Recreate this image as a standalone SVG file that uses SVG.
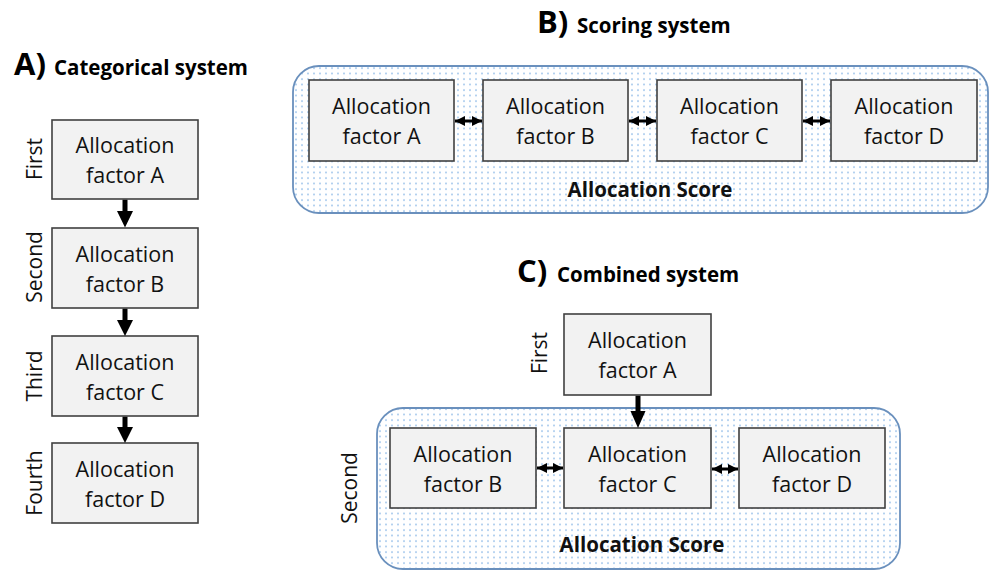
<svg xmlns="http://www.w3.org/2000/svg" width="990" height="571" viewBox="0 0 990 571">
<defs>
<pattern id="dots" width="6" height="5.5" patternUnits="userSpaceOnUse">
<rect width="6" height="5.5" fill="#ffffff"/>
<circle cx="2" cy="2" r="0.9" fill="#93bde9"/>
</pattern>
<marker id="dh" viewBox="0 0 10 10" refX="10" refY="5" markerWidth="10" markerHeight="10" markerUnits="userSpaceOnUse" orient="auto-start-reverse">
<path d="M0,0 L10,5 L0,10 Z" fill="#000"/>
</marker>
</defs>
<style>
.box{fill:#f2f2f2;stroke:#404040;stroke-width:1.6}
.cont{fill:url(#dots);stroke:#6a90bd;stroke-width:1.8}
.t{font-family:"Open Sans","Liberation Sans",sans-serif;font-size:21.5px;fill:#111;text-anchor:middle}
.lab{font-family:"Open Sans","Liberation Sans",sans-serif;font-size:21px;fill:#111;text-anchor:middle}
.big{font-family:"Open Sans","Liberation Sans",sans-serif;font-weight:bold;font-size:31px;fill:#000}
.ttl{font-family:"Open Sans","Liberation Sans",sans-serif;font-weight:bold;font-size:20.5px;fill:#000}
.score{font-family:"Open Sans","Liberation Sans",sans-serif;font-weight:bold;font-size:20.5px;fill:#111;text-anchor:middle}
.dbl{stroke:#000;stroke-width:3;fill:none;marker-start:url(#dh);marker-end:url(#dh)}
</style>

<g id="titles">
<text class="big" x="14" y="75">A)</text><text class="ttl" x="54" y="75">Categorical system</text>
<text class="big" x="537" y="33">B)</text><text class="ttl" x="577" y="33">Scoring system</text>
<text class="big" x="517" y="282">C)</text><text class="ttl" x="557" y="282">Combined system</text>
</g>

<g id="containerB"><rect class="cont" x="293" y="66" width="695" height="147" rx="26"/><text class="score" x="650" y="197">Allocation Score</text></g>
<g id="containerC"><rect class="cont" x="377" y="408" width="523" height="161" rx="26"/><text class="score" x="642" y="552">Allocation Score</text></g>

<g id="labels">
<text class="lab" transform="translate(42,159) rotate(-90)">First</text>
<text class="lab" transform="translate(42,267) rotate(-90)">Second</text>
<text class="lab" transform="translate(42,376) rotate(-90)">Third</text>
<text class="lab" transform="translate(42,483) rotate(-90)">Fourth</text>
<text class="lab" transform="translate(547,353) rotate(-90)">First</text>
<text class="lab" transform="translate(357,488) rotate(-90)">Second</text>
</g>

<g id="A1"><rect class="box" x="52" y="120" width="146" height="79"/><text class="t" x="125" y="153">Allocation</text><text class="t" x="125" y="183">factor A</text></g>
<g id="A2"><rect class="box" x="52" y="228" width="146" height="80"/><text class="t" x="125" y="261.5">Allocation</text><text class="t" x="125" y="291.5">factor B</text></g>
<g id="A3"><rect class="box" x="52" y="336" width="146" height="80"/><text class="t" x="125" y="369.5">Allocation</text><text class="t" x="125" y="399.5">factor C</text></g>
<g id="A4"><rect class="box" x="52" y="443" width="146" height="80"/><text class="t" x="125" y="476.5">Allocation</text><text class="t" x="125" y="506.5">factor D</text></g>

<g id="B1"><rect class="box" x="309" y="80" width="145" height="81"/><text class="t" x="381.5" y="114">Allocation</text><text class="t" x="381.5" y="144">factor A</text></g>
<g id="B2"><rect class="box" x="483" y="80" width="145" height="81"/><text class="t" x="555.5" y="114">Allocation</text><text class="t" x="555.5" y="144">factor B</text></g>
<g id="B3"><rect class="box" x="657" y="80" width="145" height="81"/><text class="t" x="729.5" y="114">Allocation</text><text class="t" x="729.5" y="144">factor C</text></g>
<g id="B4"><rect class="box" x="831" y="80" width="146" height="81"/><text class="t" x="904" y="114">Allocation</text><text class="t" x="904" y="144">factor D</text></g>

<g id="C1"><rect class="box" x="564" y="314" width="147" height="81"/><text class="t" x="637.5" y="348">Allocation</text><text class="t" x="637.5" y="378">factor A</text></g>
<g id="C2"><rect class="box" x="390" y="428" width="146" height="80"/><text class="t" x="463" y="461.5">Allocation</text><text class="t" x="463" y="491.5">factor B</text></g>
<g id="C3"><rect class="box" x="564" y="428" width="147" height="80"/><text class="t" x="637.5" y="461.5">Allocation</text><text class="t" x="637.5" y="491.5">factor C</text></g>
<g id="C4"><rect class="box" x="739" y="428" width="146" height="80"/><text class="t" x="812" y="461.5">Allocation</text><text class="t" x="812" y="491.5">factor D</text></g>

<g id="connectors">
<path d="M122.5,199.8 H127.5 V211 H133 L125,227.5 L117,211 H122.5 Z" fill="#000"/>
<path d="M122.5,308.8 H127.5 V320 H133 L125,336 L117,320 H122.5 Z" fill="#000"/>
<path d="M122.5,416.8 H127.5 V427 H133 L125,443 L117,427 H122.5 Z" fill="#000"/>
<path d="M635.5,395.8 H640.5 V411 H645.5 L638,428 L630.5,411 H635.5 Z" fill="#000"/>
<line class="dbl" x1="455" y1="121" x2="482" y2="121"/>
<line class="dbl" x1="629" y1="121" x2="656" y2="121"/>
<line class="dbl" x1="803" y1="121" x2="830" y2="121"/>
<line class="dbl" x1="537" y1="468" x2="563" y2="468"/>
<line class="dbl" x1="712" y1="469" x2="738" y2="469"/>
</g>
</svg>
